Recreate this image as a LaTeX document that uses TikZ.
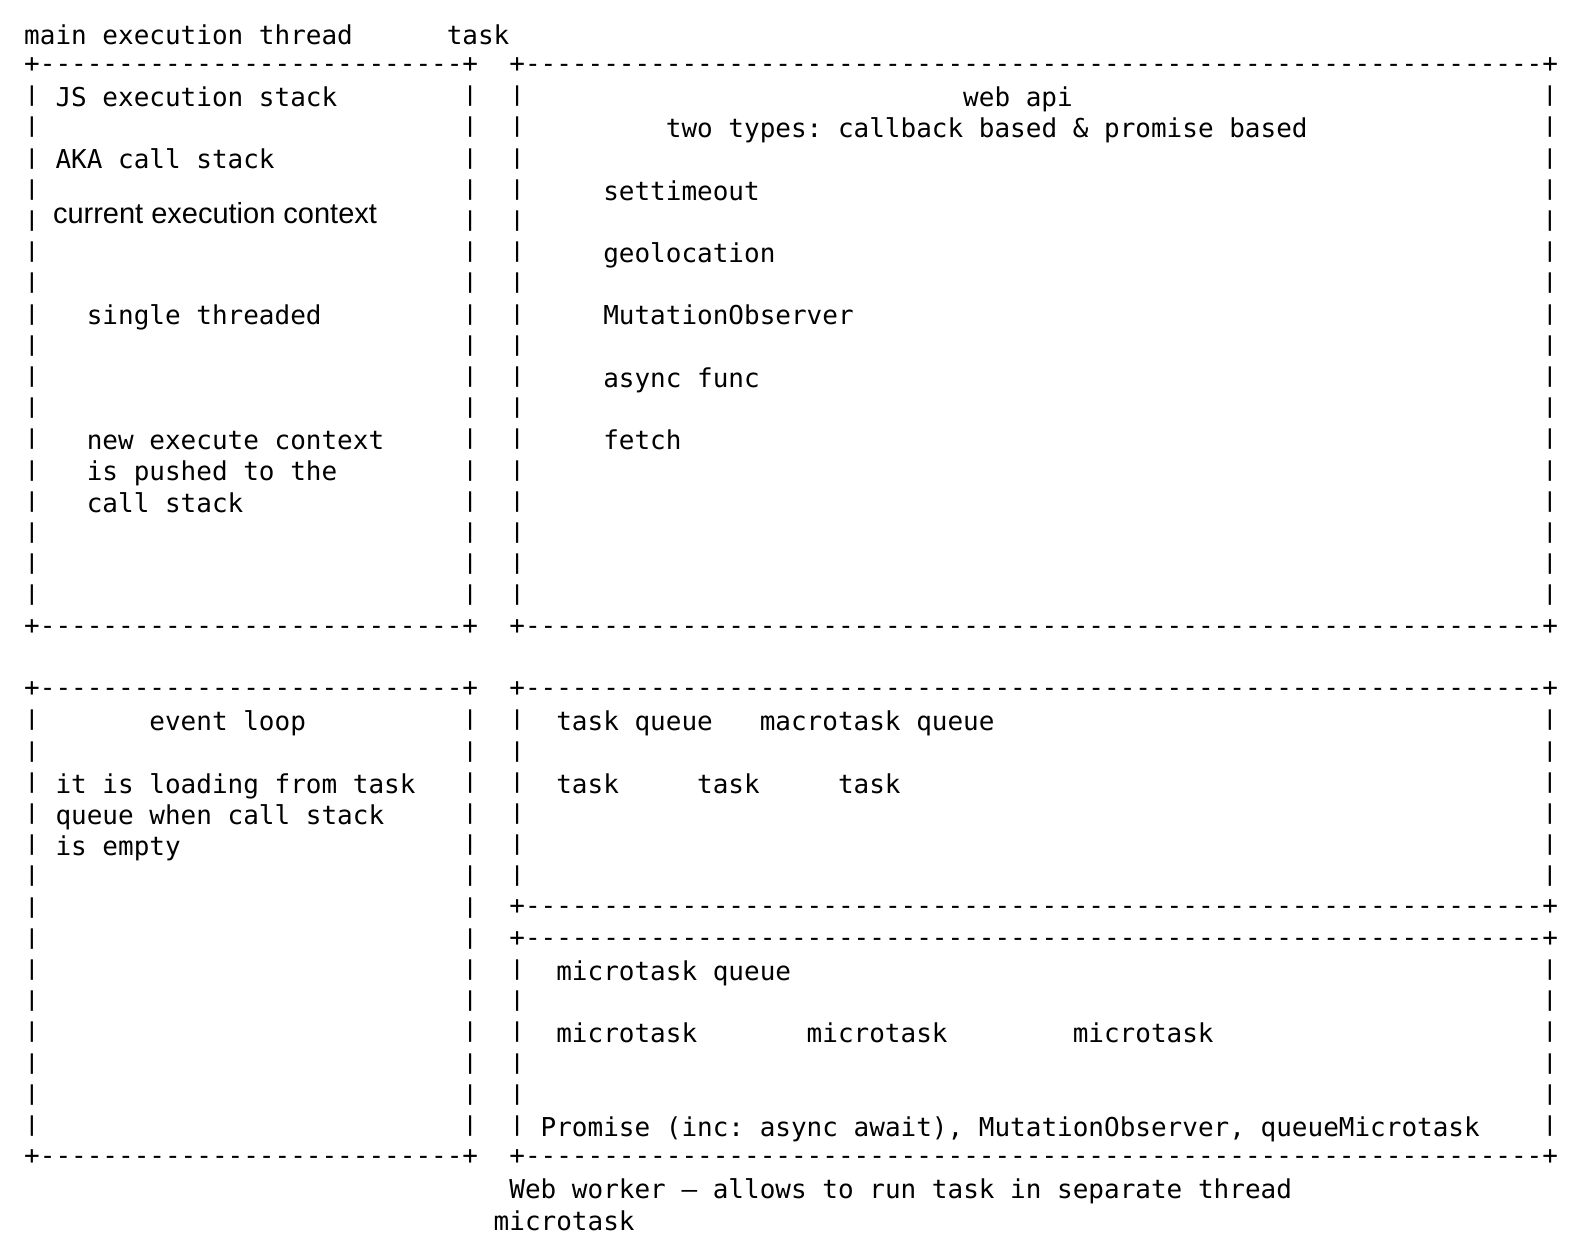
\documentclass[tikz,border=0pt]{standalone}
\usepackage{fontspec}
\usepackage{graphicx}
\newfontfamily\monofont{DejaVu Sans Mono}
\newfontfamily\propfont{Liberation Sans}
\newcommand\monosize{\fontsize{13.0pt}{15.6pt}\selectfont}
\newcommand\propsize{\fontsize{14.5pt}{17pt}\selectfont}
\tikzset{
  mono/.style={font=\monofont\monosize, inner sep=0pt, outer sep=0pt, anchor=base west, text=black},
  barglyph/.style={font=\monofont\monosize, inner sep=0pt, outer sep=0pt, anchor=south, text=black},
  prop/.style={font=\propfont\propsize, inner sep=0pt, outer sep=0pt, anchor=base west, text=black},
}
% text at column #2, row #3
\newcommand\txt[4]{\node[mono] (#1) at ({24.2+15.65*(#2)},{44+31.21*(#3)}) {#4};}
\newcommand\dashrun[1]{\foreach\k in {1,...,#1}{-\kern0pt}}
% border line: name, column, row, number of dashes
\newcommand\border[4]{\node[mono] (#1) at ({24.2+15.65*(#2)},{41+31.21*(#3)}) {+\kern0pt\dashrun{#4}+};}
% vertical bar: name, column, row
\newcommand\vbar[3]{\node[barglyph] (#1) at ({32.0+15.65*(#2)},{44+31.21*(#3)}) {\scalebox{1}[0.79]{|}};}
\begin{document}
\begin{tikzpicture}[x=0.5pt,y=-0.5pt]
\frenchspacing
\fill[white] (0,0) rectangle (1578,1244);
\useasboundingbox (0,0) rectangle (1578,1244);
% ---- headings
\txt{hmain}{0}{0}{main execution thread}
\txt{htask}{27}{0}{task}
% ---- border lines
\foreach \r in {1,19,21,36} {
  \border{bl\r}{0}{\r}{27}
}
\foreach \r in {1,19,21,28,29,36} {
  \border{br\r}{31}{\r}{65}
}
% ---- vertical bars
\foreach \r in {2,...,18} {
  \vbar{va\r}{0}{\r}
  \vbar{vb\r}{28}{\r}
  \vbar{vc\r}{31}{\r}
  \vbar{vd\r}{97}{\r}
}
\foreach \r in {22,...,35} {
  \vbar{ve\r}{0}{\r}
  \vbar{vf\r}{28}{\r}
}
\foreach \r in {22,...,27,30,31,32,33,34,35} {
  \vbar{vg\r}{31}{\r}
  \vbar{vh\r}{97}{\r}
}
% ---- JS execution stack box
\txt{js}{2}{2}{JS execution stack}
\txt{aka}{2}{4}{AKA call stack}
\node[prop] (cur) at (53,223) {current execution context};
\txt{single}{4}{9}{single threaded}
\txt{new1}{4}{13}{new execute context}
\txt{new2}{4}{14}{is pushed to the}
\txt{new3}{4}{15}{call stack}
% ---- web api box
\txt{webapi}{60}{2}{web api}
\txt{types}{41}{3}{two types: callback based \& promise based}
\txt{settimeout}{37}{5}{settimeout}
\txt{geo}{37}{7}{geolocation}
\txt{mutobs}{37}{9}{MutationObserver}
\txt{async}{37}{11}{async func}
\txt{fetch}{37}{13}{fetch}
% ---- event loop box
\txt{evloop}{8}{22}{event loop}
\txt{ev1}{2}{24}{it is loading from task}
\txt{ev2}{2}{25}{queue when call stack}
\txt{ev3}{2}{26}{is empty}
% ---- task queue box
\txt{tq}{34}{22}{task queue}
\txt{mq}{47}{22}{macrotask queue}
\txt{tA}{34}{24}{task}
\txt{tB}{43}{24}{task}
\txt{tC}{52}{24}{task}
% ---- microtask queue box
\txt{mtq}{34}{30}{microtask queue}
\txt{mA}{34}{32}{microtask}
\txt{mB}{50}{32}{microtask}
\txt{mC}{67}{32}{microtask}
\txt{prom}{33}{35}{Promise (inc: async await), MutationObserver, queueMicrotask}
% ---- footer
\txt{worker}{31}{37}{Web worker – allows to run task in separate thread}
\txt{micro}{30}{38}{microtask}
\end{tikzpicture}
\end{document}
